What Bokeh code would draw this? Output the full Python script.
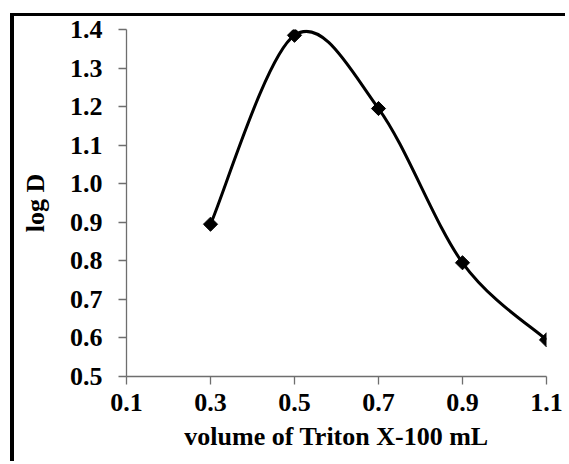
import numpy as np
from bokeh.plotting import figure
from bokeh.models import FixedTicker, PrintfTickFormatter
from bokeh.embed import file_html
from bokeh.resources import INLINE

# ---- data ----
volume = [0.3, 0.5, 0.7, 0.9, 1.1]
log_d = [0.895, 1.385, 1.195, 0.795, 0.595]
x_ticks = [0.1, 0.3, 0.5, 0.7, 0.9, 1.1]
y_ticks = [0.5, 0.6, 0.7, 0.8, 0.9, 1.0, 1.1, 1.2, 1.3, 1.4]
x_title = "volume of Triton X-100 mL"
y_title = "log D"

# ---- smoothed line (Catmull-Rom style Bezier control points from data) ----
x = np.array(volume)
y = np.array(log_d)
n = len(x)
xp = np.concatenate([[x[0]], x, [x[-1]]])
yp = np.concatenate([[y[0]], y, [y[-1]]])
cx0 = x[:-1] + (xp[2:n + 1] - xp[0:n - 1]) / 6.0
cy0 = y[:-1] + (yp[2:n + 1] - yp[0:n - 1]) / 6.0
cx1 = x[1:] - (xp[3:n + 2] - xp[1:n]) / 6.0
cy1 = y[1:] - (yp[3:n + 2] - yp[1:n]) / 6.0

FONT = "Liberation Serif"

p = figure(width=555, height=448, output_backend="svg", toolbar_location=None,
           x_range=(0.1, 1.1), y_range=(0.5, 1.4),
           min_border_left=112, min_border_right=23,
           min_border_top=13, min_border_bottom=88,
           styles={"margin-left": "10px", "margin-top": "13px",
                   "border-left": "4px solid black",
                   "border-top": "3px solid black"})

p.background_fill_color = "white"
p.border_fill_color = "white"
p.outline_line_color = None
p.xgrid.visible = False
p.ygrid.visible = False

p.bezier(x0=x[:-1], y0=y[:-1], x1=x[1:], y1=y[1:],
         cx0=cx0, cy0=cy0, cx1=cx1, cy1=cy1,
         line_color="black", line_width=3)
p.scatter(volume, log_d, marker="square", size=10, angle=np.pi / 4,
          fill_color="black", line_color="black")

for ax, ticks in ((p.xaxis, x_ticks), (p.yaxis, y_ticks)):
    ax.ticker = FixedTicker(ticks=ticks)
    ax.formatter = PrintfTickFormatter(format="%.1f")
    ax.minor_tick_line_color = None
    ax.major_tick_out = 8
    ax.major_tick_in = 0
    ax.axis_line_color = "#6e6e6e"
    ax.axis_line_width = 1.3
    ax.major_tick_line_color = "#6e6e6e"
    ax.major_tick_line_width = 1.3
    ax.major_label_text_font = FONT
    ax.major_label_text_font_style = "bold"
    ax.major_label_text_font_size = "26px"
    ax.major_label_text_color = "black"
    ax.axis_label_text_font = FONT
    ax.axis_label_text_font_style = "bold"
    ax.axis_label_text_font_size = "26px"
    ax.axis_label_text_color = "black"

p.xaxis.axis_label = x_title
p.yaxis.axis_label = y_title
p.xaxis.major_label_standoff = 9
p.yaxis.major_label_standoff = 16
p.xaxis.axis_label_standoff = 8
p.yaxis.axis_label_standoff = 17

open("out.html", "w").write(file_html(p, INLINE))
